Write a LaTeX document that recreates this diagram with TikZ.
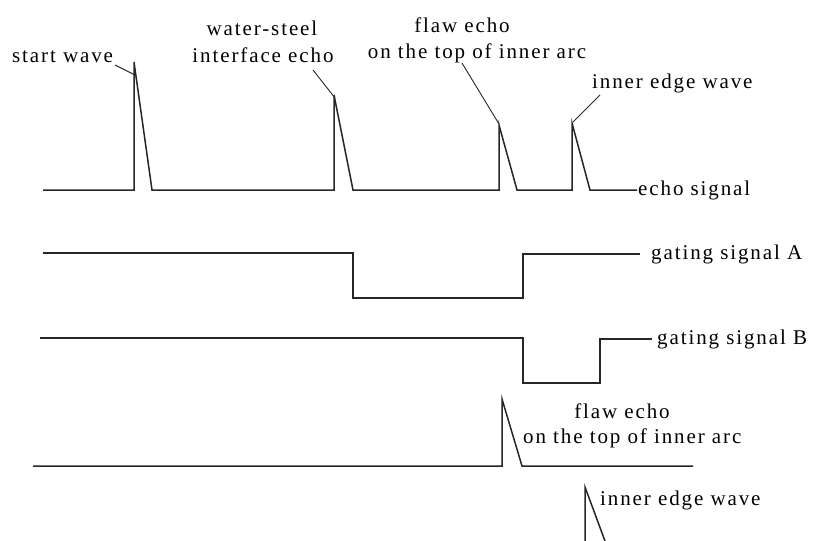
\documentclass[tikz,border=0pt]{standalone}
\usepackage{fontspec}
\setmainfont{Liberation Serif}[LetterSpace=9]
\begin{document}
\begin{tikzpicture}[x=1pt,y=-1pt,
  signal/.style={line width=1.5pt, line join=miter, draw=black!85},
  leader/.style={line width=0.9pt, draw=black!85},
  lbl/.style={inner sep=0pt, font=\fontsize{21}{24}\selectfont},
  lblw/.style={lbl, anchor=base west},
  lblc/.style={lbl, anchor=base}]
\useasboundingbox (0,0) rectangle (815,541);

% ---------- echo signal ----------
\coordinate (e0) at (43,190);
\coordinate (s1) at (134,190); \coordinate (sTop) at (134,62); \coordinate (s2) at (152,190);
\coordinate (w1) at (334,190); \coordinate (wTop) at (334,95); \coordinate (w2) at (353,190);
\coordinate (f1) at (499,190); \coordinate (fTop) at (499,125); \coordinate (f2) at (517,190);
\coordinate (i1) at (572,190); \coordinate (iTop) at (572,123); \coordinate (i2) at (590,190);
\coordinate (e9) at (637,190);
\draw[signal] (e0) -- (s1) -- (sTop) -- (s2) -- (w1) -- (wTop) -- (w2)
  -- (f1) -- (fTop) -- (f2) -- (i1) -- (iTop) -- (i2) -- (e9);

\node[lblw] (echoLbl) at (638,195) {echo signal};
\node[lblw] (startLbl) at (12,62) {start wave};
\node[lblc] (wsLbl) at (262,35) {water-steel};
\node[lblc] (ifLbl) at (263,62) {interface echo};
\node[lblc] (flawLbl) at (462,32) {flaw echo};
\node[lblc] (topLbl) at (477,58) {on the top of inner arc};
\node[lblw] (innerLbl) at (592,88) {inner edge wave};

% leader lines from labels to peaks
\coordinate (startLead) at (115,65);  \coordinate (startHit) at (135,75);
\coordinate (wsLead) at (313,70);     \coordinate (wsHit) at (335,98);
\coordinate (flawLead) at (462,63);   \coordinate (flawHit) at (499,124);
\coordinate (innerLead) at (600,95);  \coordinate (innerHit) at (573,122);
\draw[leader] (startLead) -- (startHit);
\draw[leader] (wsLead) -- (wsHit);
\draw[leader] (flawLead) -- (flawHit);
\draw[leader] (innerLead) -- (innerHit);

% ---------- gating signal A ----------
\coordinate (a0) at (43,253); \coordinate (a1) at (353,253); \coordinate (a2) at (353,298);
\coordinate (a3) at (523,298); \coordinate (a4) at (523,254); \coordinate (a5) at (640,254);
\draw[signal] (a0) -- (a1) -- (a2) -- (a3) -- (a4) -- (a5);
\node[lblw] (aLbl) at (651,259) {gating signal A};

% ---------- gating signal B ----------
\coordinate (b0) at (40,338); \coordinate (b1) at (523,338); \coordinate (b2) at (523,383);
\coordinate (b3) at (600,383); \coordinate (b4) at (600,339); \coordinate (b5) at (652,339);
\draw[signal] (b0) -- (b1) -- (b2) -- (b3) -- (b4) -- (b5);
\node[lblw] (bLbl) at (657,344) {gating signal B};

% ---------- gated output ----------
\coordinate (g0) at (33,466); \coordinate (g1) at (502,466); \coordinate (gTop) at (502,399);
\coordinate (g2) at (522,466); \coordinate (g3) at (693,466);
\draw[signal] (g0) -- (g1) -- (gTop) -- (g2) -- (g3);
\node[lblc] (gFlawLbl) at (622,418) {flaw echo};
\node[lblw] (gTopLbl) at (523,443) {on the top of inner arc};

\coordinate (h0) at (585,541); \coordinate (hTop) at (585,487); \coordinate (h1) at (605,541);
\draw[signal] (h0) -- (hTop) -- (h1);
\node[lblw] (gInnerLbl) at (600,505) {inner edge wave};
\end{tikzpicture}
\end{document}
